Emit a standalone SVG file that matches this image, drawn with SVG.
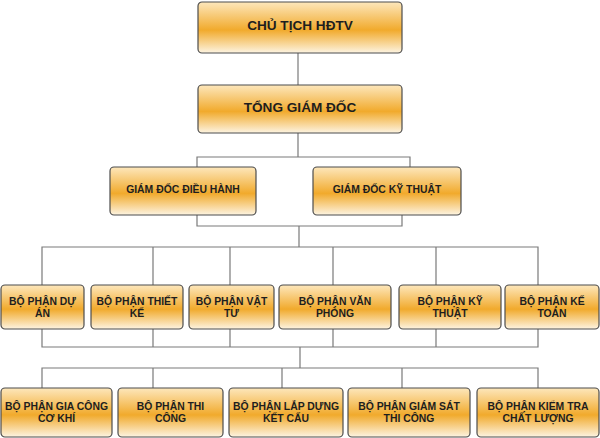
<svg xmlns="http://www.w3.org/2000/svg" width="600" height="438" viewBox="0 0 600 438">
<defs>
<linearGradient id="gold" x1="0" y1="0" x2="0" y2="1">
<stop offset="0" stop-color="#fde7bc"/>
<stop offset="0.55" stop-color="#f1aa2c"/>
<stop offset="1" stop-color="#fdf4e2"/>
</linearGradient>
<style>
.box{fill:url(#gold);stroke:#4d4d4d;stroke-width:1.2}
.t{font-family:"Liberation Sans",Arial,sans-serif;font-weight:bold;fill:#1e1e1e;text-anchor:middle}
.big{font-size:13.6px}
.sm{font-size:10.4px}
.c{fill:none;stroke:#7a7a7a;stroke-width:1.2}
</style>
</defs>
<rect width="600" height="438" fill="#ffffff"/>
<g id="connectors" class="c">
<path d="M298 53V85"/>
<path d="M298 133V157M197 167V157H410V167"/>
<path d="M197 215V226H402V215M299 226V247"/>
<path d="M42 285V247H538V285M153 247V285M230 247V285M333 247V285M436 247V285"/>
<path d="M42 329V347H538V329M153 329V347M230 329V347M333 329V347M436 329V347"/>
<path d="M300 347V368"/>
<path d="M42 388V368H538V388M153 368V388M282 368V388M402 368V388"/>
</g>
<g id="n1"><rect class="box" x="198" y="2" width="204" height="51" rx="4"/><text class="t big" x="300" y="30">CHỦ TỊCH HĐTV</text></g>
<g id="n2"><rect class="box" x="198" y="85" width="204" height="48" rx="4"/><text class="t big" x="300" y="112">TỔNG GIÁM ĐỐC</text></g>
<g id="n3"><rect class="box" x="110" y="167" width="146" height="48" rx="4"/><text class="t sm" x="183" y="193">GIÁM ĐỐC ĐIỀU HÀNH</text></g>
<g id="n4"><rect class="box" x="313" y="167" width="148" height="48" rx="4"/><text class="t sm" x="387" y="193">GIÁM ĐỐC KỸ THUẬT</text></g>
<g id="n5"><rect class="box" x="1" y="285" width="83" height="44" rx="4"/><text class="t sm" x="42.5" y="305">BỘ PHẬN DỰ<tspan x="42.5" dy="12">ÁN</tspan></text></g>
<g id="n6"><rect class="box" x="91" y="285" width="92" height="44" rx="4"/><text class="t sm" x="137" y="305">BỘ PHẬN THIẾT<tspan x="137" dy="12">KẾ</tspan></text></g>
<g id="n7"><rect class="box" x="189" y="285" width="85" height="44" rx="4"/><text class="t sm" x="231.5" y="305">BỘ PHẬN VẬT<tspan x="231.5" dy="12">TƯ</tspan></text></g>
<g id="n8"><rect class="box" x="279" y="285" width="112" height="44" rx="4"/><text class="t sm" x="335" y="305">BỘ PHẬN VĂN<tspan x="335" dy="12">PHÒNG</tspan></text></g>
<g id="n9"><rect class="box" x="399" y="285" width="102" height="44" rx="4"/><text class="t sm" x="450" y="305">BỘ PHẬN KỸ<tspan x="450" dy="12">THUẬT</tspan></text></g>
<g id="n10"><rect class="box" x="505" y="285" width="94" height="44" rx="4"/><text class="t sm" x="552" y="305">BỘ PHẬN KẾ<tspan x="552" dy="12">TOÁN</tspan></text></g>
<g id="n11"><rect class="box" x="1" y="388" width="111" height="49" rx="4"/><text class="t sm" x="56.5" y="410">BỘ PHẬN GIA CÔNG<tspan x="56.5" dy="12">CƠ KHÍ</tspan></text></g>
<g id="n12"><rect class="box" x="118" y="388" width="105" height="49" rx="4"/><text class="t sm" x="170.5" y="410">BỘ PHẬN THI<tspan x="170.5" dy="12">CÔNG</tspan></text></g>
<g id="n13"><rect class="box" x="229" y="388" width="114" height="49" rx="4"/><text class="t sm" x="286" y="410">BỘ PHẬN LẮP DỰNG<tspan x="286" dy="12">KẾT CẤU</tspan></text></g>
<g id="n14"><rect class="box" x="348" y="388" width="122" height="49" rx="4"/><text class="t sm" x="409" y="410">BỘ PHẬN GIÁM SÁT<tspan x="409" dy="12">THI CÔNG</tspan></text></g>
<g id="n15"><rect class="box" x="477" y="388" width="122" height="49" rx="4"/><text class="t sm" x="538" y="410">BỘ PHẬN KIỂM TRA<tspan x="538" dy="12">CHẤT LƯỢNG</tspan></text></g>
</svg>
